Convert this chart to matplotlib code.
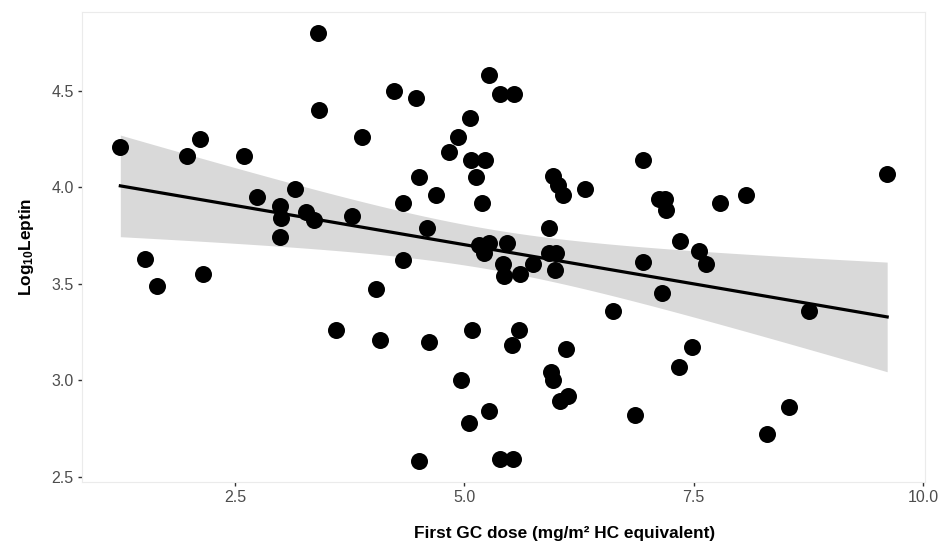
import matplotlib
matplotlib.use("Agg")
import matplotlib.pyplot as plt
import numpy as np

# -------------------------------------------------
# Data
# -------------------------------------------------

gc_dose = [
    1.25, 1.52, 1.65, 1.98, 2.12, 2.15, 2.60, 2.74, 2.99, 3.00, 2.99,
    3.15, 3.27, 3.36, 3.40, 3.42, 3.60, 3.78, 3.88, 4.04, 4.08, 4.23,
    4.33, 4.33, 4.47, 4.51, 4.51, 4.59, 4.62, 4.69, 4.83, 4.93, 4.96,
    5.06, 5.07, 5.08, 5.05, 5.13, 5.19, 5.23, 5.16, 5.21, 5.27, 5.27,
    5.27, 5.39, 5.42, 5.43, 5.47, 5.39, 5.54, 5.53, 5.52, 5.60, 5.61,
    5.75, 5.92, 5.92, 5.97, 6.00, 5.99, 5.95, 5.97, 6.02, 6.08, 6.04,
    6.13, 6.11, 6.32, 6.62, 6.86, 6.95, 6.95, 7.12, 7.19, 7.20, 7.16,
    7.35, 7.34, 7.48, 7.56, 7.64, 7.79, 8.07, 8.30, 8.54, 8.76, 9.61,
]

log_leptin = [
    4.21, 3.63, 3.49, 4.16, 4.25, 3.55, 4.16, 3.95, 3.90, 3.84, 3.74,
    3.99, 3.87, 3.83, 4.80, 4.40, 3.26, 3.85, 4.26, 3.47, 3.21, 4.50,
    3.92, 3.62, 4.46, 4.05, 2.58, 3.79, 3.20, 3.96, 4.18, 4.26, 3.00,
    4.36, 4.14, 3.26, 2.78, 4.05, 3.92, 4.14, 3.70, 3.66, 3.71, 4.58,
    2.84, 4.48, 3.60, 3.54, 3.71, 2.59, 4.48, 2.59, 3.18, 3.26, 3.55,
    3.60, 3.79, 3.66, 4.06, 3.66, 3.57, 3.04, 3.00, 4.01, 3.96, 2.89,
    2.92, 3.16, 3.99, 3.36, 2.82, 4.14, 3.61, 3.94, 3.94, 3.88, 3.45,
    3.72, 3.07, 3.17, 3.67, 3.60, 3.92, 3.96, 2.72, 2.86, 3.36, 4.07,
]

x_ticks = [2.5, 5.0, 7.5, 10.0]
y_ticks = [2.5, 3.0, 3.5, 4.0, 4.5]

# -------------------------------------------------
# Linear fit with 95% confidence band
# -------------------------------------------------

x = np.array(gc_dose)
y = np.array(log_leptin)
n = len(x)

slope, intercept = np.polyfit(x, y, 1)
resid = y - (slope * x + intercept)
s_err = np.sqrt(np.sum(resid ** 2) / (n - 2))
t_crit = 1.988  # t(0.975, df = 86)

xs = np.linspace(x.min(), x.max(), 200)
ys = slope * xs + intercept
se_fit = s_err * np.sqrt(1 / n + (xs - x.mean()) ** 2 / np.sum((x - x.mean()) ** 2))

# -------------------------------------------------
# Plot
# -------------------------------------------------

plt.rcParams["font.family"] = ["Liberation Sans", "DejaVu Sans"]
plt.rcParams["mathtext.default"] = "regular"

fig = plt.figure(figsize=(9.38, 5.43), dpi=100)
ax = fig.add_axes([0.0874, 0.1129, 0.8987, 0.8656])

ax.fill_between(xs, ys - t_crit * se_fit, ys + t_crit * se_fit,
                color="#D9D9D9", linewidth=0, zorder=1)
ax.scatter(x, y, s=150, color="black", linewidths=0, zorder=2)
ax.plot(xs, ys, color="black", linewidth=2.3, zorder=3)

ax.set_xlim(0.832, 10.022)
ax.set_ylim(2.474, 4.909)
ax.set_xticks(x_ticks)
ax.set_xticklabels([f"{v:.1f}" for v in x_ticks])
ax.set_yticks(y_ticks)
ax.set_yticklabels([f"{v:.1f}" for v in y_ticks])

for side in ax.spines.values():
    side.set_color("#EBEBEB")
    side.set_linewidth(0.8)

ax.tick_params(axis="both", length=3, width=1, color="#333333",
               labelcolor="#4D4D4D", labelsize=11.5, pad=3)

ax.set_xlabel("First GC dose (mg/m² HC equivalent)", fontsize=12.4,
              fontweight="bold")
ax.xaxis.set_label_coords(0.573, -0.095)
ax.set_ylabel("Log$_{10}$Leptin", fontsize=12.4,
              fontweight="bold", labelpad=11)

fig.savefig("out.png", dpi=100, facecolor="white")
